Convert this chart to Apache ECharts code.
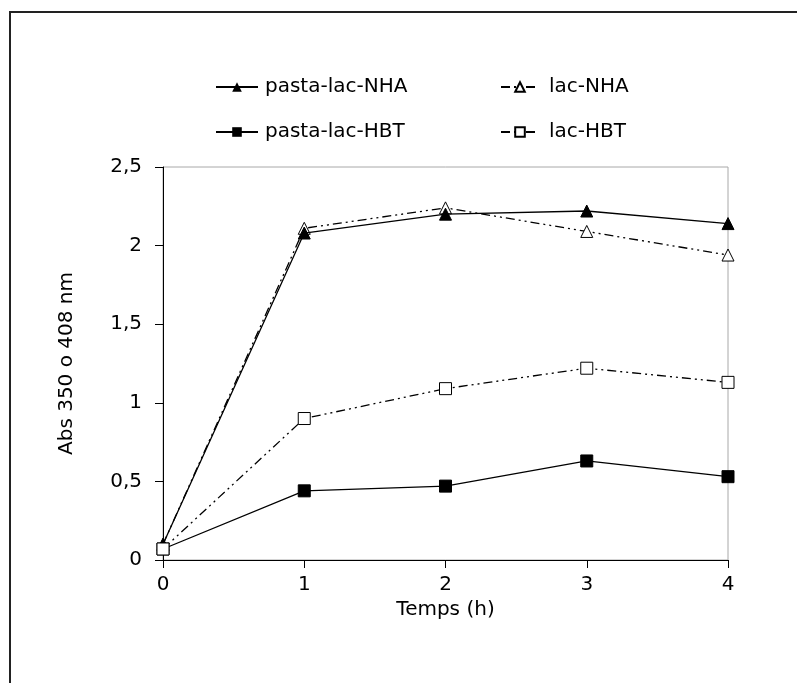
<!DOCTYPE html>
<html>
<head>
<meta charset="utf-8">
<script src="https://cdn.jsdelivr.net/npm/echarts@6/dist/echarts.min.js"></script>
<style>
    html, body { margin: 0; padding: 0; background: #fff; }
    #chart { width: 797px; height: 683px; }
</style>
</head>
<body>
<div id="chart"></div>
<script>
// Time points (h)
const hours = [0, 1, 2, 3, 4];

// Abs 350 o 408 nm
const pastaLacNHA = [0.10, 2.08, 2.20, 2.22, 2.14];
const lacNHA = [0.10, 2.11, 2.24, 2.09, 1.94];
const pastaLacHBT = [0.07, 0.44, 0.47, 0.63, 0.53];
const lacHBT = [0.07, 0.90, 1.09, 1.22, 1.13];

const yTicks = ['0', '0,5', '1', '1,5', '2', '2,5'];

const font = 'DejaVu Sans';

function pairs(values) {
    return hours.map((h, i) => [h, values[i]]);
}

let chart = echarts.init(document.getElementById('chart'));

let option = {
    backgroundColor: '#fff',
    animation: false,
    textStyle: { fontFamily: font, color: '#000' },

    // Outer frame of the figure
    graphic: [
        {
            type: 'rect',
            shape: { x: 10, y: 12, width: 820, height: 720 },
            style: { fill: 'none', stroke: '#222', lineWidth: 2 },
            silent: true,
        },
    ],

    grid: {
        left: 163,
        top: 167,
        right: 69,
        bottom: 123,
        show: true,
        borderColor: '#a8a8a8',
        borderWidth: 1,
    },

    // Two columns of legend
    legend: [
        {
            data: ['pasta-lac-NHA', 'pasta-lac-HBT'],
            left: 210,
            top: 72,
            orient: 'vertical',
            itemWidth: 42,
            itemHeight: 12,
            itemGap: 25,
            textStyle: { fontFamily: font, fontSize: 20, lineHeight: 20, color: '#000', padding: [0, 0, 0, 2] },
        },
        {
            data: ['lac-NHA', 'lac-HBT'],
            left: 495,
            top: 72,
            orient: 'vertical',
            itemWidth: 38,
            itemHeight: 12,
            itemGap: 25,
            textStyle: { fontFamily: font, fontSize: 20, lineHeight: 20, color: '#000', padding: [0, 0, 0, 5] },
        },
    ],

    xAxis: {
        type: 'value',
        min: 0,
        max: 4,
        interval: 1,
        name: 'Temps (h)',
        nameLocation: 'middle',
        nameGap: 35,
        nameTextStyle: { fontFamily: font, fontSize: 20, color: '#000' },
        axisLine: { show: true, onZero: false, lineStyle: { color: '#000', width: 1 } },
        axisTick: { show: true, length: 8, lineStyle: { color: '#000' } },
        axisLabel: { fontFamily: font, fontSize: 20, color: '#000', margin: 15 },
        splitLine: { show: false },
    },

    yAxis: {
        type: 'value',
        min: 0,
        max: 2.5,
        interval: 0.5,
        name: 'Abs 350 o 408 nm',
        nameLocation: 'middle',
        nameGap: 86,
        nameTextStyle: { fontFamily: font, fontSize: 20, color: '#000' },
        axisLine: { show: true, lineStyle: { color: '#000', width: 1 } },
        axisTick: { show: true, length: 8, lineStyle: { color: '#000' } },
        axisLabel: {
            fontFamily: font,
            fontSize: 20,
            color: '#000',
            margin: 21,
            formatter: (v) => yTicks[Math.round(v / 0.5)],
        },
        splitLine: { show: false },
    },

    series: [
        {
            name: 'pasta-lac-NHA',
            type: 'line',
            data: pairs(pastaLacNHA),
            symbol: 'triangle',
            symbolSize: 12,
            z: 4,
            lineStyle: { color: '#000', width: 1.3, type: 'solid' },
            itemStyle: { color: '#000', borderColor: '#000' },
        },
        {
            name: 'lac-NHA',
            type: 'line',
            data: pairs(lacNHA),
            symbol: 'triangle',
            symbolSize: 12,
            z: 3,
            lineStyle: { color: '#000', width: 1.3, type: [9, 4, 2, 4, 2, 4] },
            itemStyle: { color: '#fff', borderColor: '#000', borderWidth: 1 },
        },
        {
            name: 'pasta-lac-HBT',
            type: 'line',
            data: pairs(pastaLacHBT),
            symbol: 'rect',
            symbolSize: 12,
            z: 4,
            lineStyle: { color: '#000', width: 1.3, type: 'solid' },
            itemStyle: { color: '#000', borderColor: '#000' },
        },
        {
            name: 'lac-HBT',
            type: 'line',
            data: pairs(lacHBT),
            symbol: 'rect',
            symbolSize: 12,
            z: 5,
            lineStyle: { color: '#000', width: 1.3, type: [9, 4, 2, 4, 2, 4] },
            itemStyle: { color: '#fff', borderColor: '#000', borderWidth: 1 },
        },
    ],
};

chart.setOption(option);
</script>
</body>
</html>
